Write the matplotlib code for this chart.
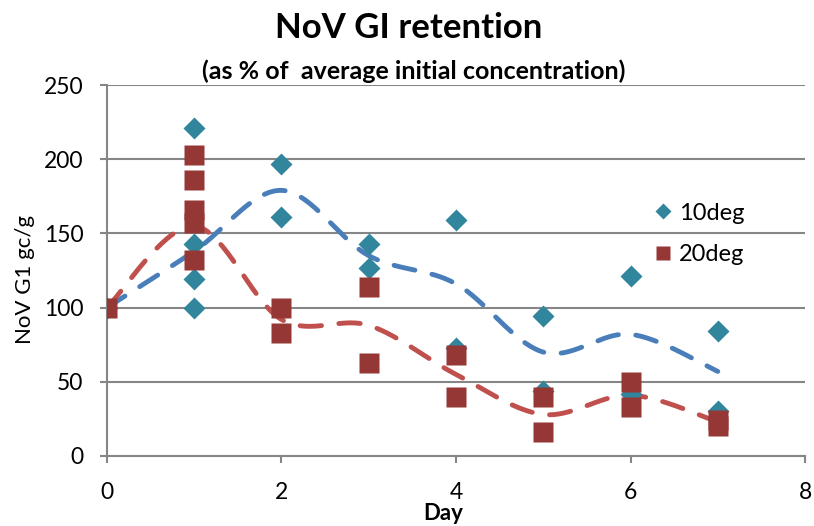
import numpy as np
import matplotlib
matplotlib.use("Agg")
import matplotlib.pyplot as plt

plt.rcParams['font.family'] = ['Lato', 'DejaVu Sans']

# retention values (% of average initial concentration) per sampling day
days_10 = [0, 1, 1, 1, 1, 2, 2, 3, 3, 4, 4, 5, 5, 6, 6, 7, 7]
vals_10 = [100, 221, 143, 119, 100, 197, 161, 143, 127, 159, 73, 94, 44, 121, 42, 84, 30]
days_20 = [0, 1, 1, 1, 1, 1, 2, 2, 3, 3, 4, 4, 5, 5, 6, 6, 7, 7]
vals_20 = [100, 203, 186, 166, 157, 132, 100, 83, 114, 63, 68, 40, 40, 16, 50, 33, 24, 20]

# trend lines through each day
trend_days = [0, 1, 2, 3, 4, 5, 6, 7]
trend_10 = [100, 138, 179, 135, 116, 70, 82, 57]
trend_20 = [100, 155, 92, 88, 55, 28, 41, 23]

y_ticks = [0, 50, 100, 150, 200, 250]
x_ticks = [0, 2, 4, 6, 8]


def smooth(x, y, n=40):
    # Catmull-Rom spline through the points
    pts = np.column_stack([x, y]).astype(float)
    p = np.vstack([pts[0], pts, pts[-1]])
    t = np.linspace(0, 1, n)[:, None]
    segs = []
    for i in range(1, len(p) - 2):
        p0, p1, p2, p3 = p[i - 1], p[i], p[i + 1], p[i + 2]
        seg = 0.5 * (2 * p1 + (-p0 + p2) * t
                     + (2 * p0 - 5 * p1 + 4 * p2 - p3) * t ** 2
                     + (-p0 + 3 * p1 - 3 * p2 + p3) * t ** 3)
        segs.append(seg if i == 1 else seg[1:])
    s = np.vstack(segs)
    return s[:, 0], s[:, 1]


fig = plt.figure(figsize=(8.14, 5.26), dpi=100)
ax = fig.add_axes([0.1314, 0.1331, 0.8576, 0.7053])

gray = '#868686'
ax.set_xlim(0, 8)
ax.set_ylim(0, 250)
ax.set_yticks(y_ticks)
ax.set_xticks(x_ticks)
ax.yaxis.grid(True, color=gray, lw=1.5)
ax.set_axisbelow(True)
for s in ['top', 'right']:
    ax.spines[s].set_visible(False)
for s in ['left', 'bottom']:
    ax.spines[s].set_color(gray)
    ax.spines[s].set_linewidth(1.5)
ax.tick_params(axis='both', direction='out', length=5, width=1.5, color=gray,
               labelsize=16.5)
ax.tick_params(axis='y', pad=12)
ax.tick_params(axis='x', pad=14)

xs, ys = smooth(trend_days, trend_10)
ax.plot(xs, ys, color='#4A7EBB', lw=3.5, linestyle=(0, (4.4, 3.6)),
        dash_capstyle='round', zorder=2)
xs, ys = smooth(trend_days, trend_20)
ax.plot(xs, ys, color='#C0504D', lw=3.5, linestyle=(0, (4.4, 3.6)),
        dash_capstyle='round', zorder=2)

ax.plot(days_10, vals_10, 'D', color='#31859C', ms=11, mec='none',
        label='10deg', zorder=3)
ax.plot(days_20, vals_20, 's', color='#953735', ms=14.5, mec='none',
        label='20deg', zorder=4)

ax.legend(loc='upper left', bbox_to_anchor=(0.752, 0.74), frameon=False,
          fontsize=17, markerscale=0.7, handlelength=0.8, handletextpad=0.3,
          labelspacing=0.85)

fig.text(0.502, 1 - 38 / 526, 'NoV GI retention', ha='center',
         va='baseline', fontsize=25, fontweight='bold')
fig.text(0.508, 1 - 79 / 526, '(as % of  average initial concentration)',
         ha='center', va='baseline', fontsize=18, fontweight='bold')
fig.text(25 / 814, 1 - 279 / 526, 'NoV G1 gc/g', rotation=90,
         ha='center', va='center', fontsize=16)
fig.text(443 / 814, 1 - 520 / 526, 'Day', ha='center', va='baseline',
         fontsize=16, fontweight='bold')

fig.savefig('out.png', dpi=100)
